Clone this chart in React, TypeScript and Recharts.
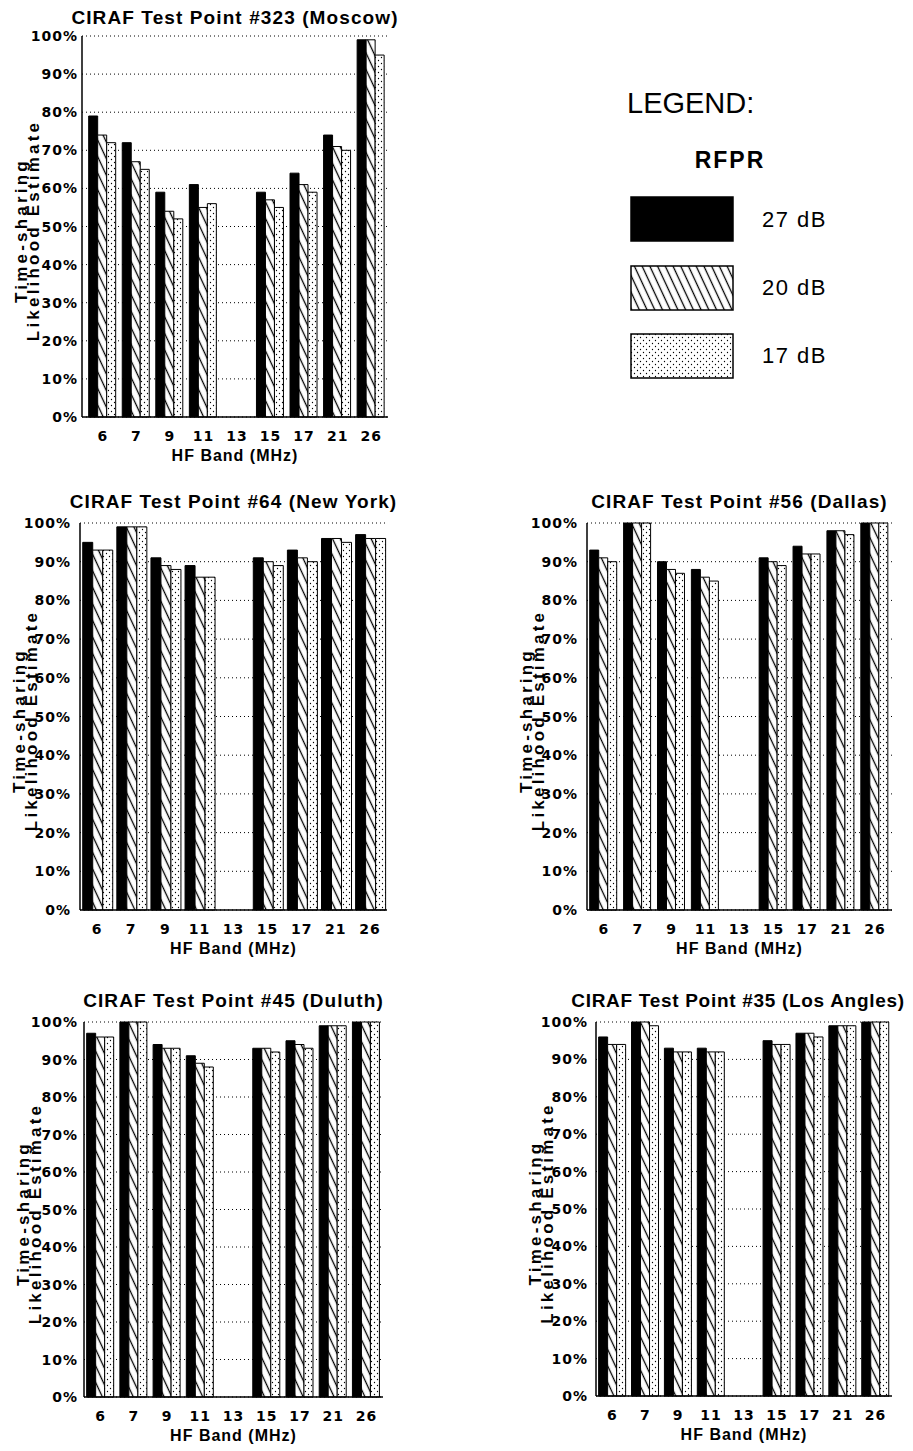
import React from 'react';
import { BarChart, Bar, XAxis, YAxis, CartesianGrid } from 'recharts';

// HF broadcast bands (MHz)
const bands = ['6', '7', '9', '11', '13', '15', '17', '21', '26'];
const yTicks = [0, 10, 20, 30, 40, 50, 60, 70, 80, 90, 100];

// RFPR 27 dB / 20 dB / 17 dB, percent, 13 MHz has no bars
const moscow27 = [79, 72, 59, 61, null, 59, 64, 74, 99];
const moscow20 = [74, 67, 54, 55, null, 57, 61, 71, 99];
const moscow17 = [72, 65, 52, 56, null, 55, 59, 70, 95];

const newYork27 = [95, 99, 91, 89, null, 91, 93, 96, 97];
const newYork20 = [93, 99, 89, 86, null, 90, 91, 96, 96];
const newYork17 = [93, 99, 88, 86, null, 89, 90, 95, 96];

const dallas27 = [93, 100, 90, 88, null, 91, 94, 98, 100];
const dallas20 = [91, 100, 88, 86, null, 90, 92, 98, 100];
const dallas17 = [90, 100, 87, 85, null, 89, 92, 97, 100];

const duluth27 = [97, 100, 94, 91, null, 93, 95, 99, 100];
const duluth20 = [96, 100, 93, 89, null, 93, 94, 99, 100];
const duluth17 = [96, 100, 93, 88, null, 92, 93, 99, 100];

const losAngeles27 = [96, 100, 93, 93, null, 95, 97, 99, 100];
const losAngeles20 = [94, 100, 92, 92, null, 94, 97, 99, 100];
const losAngeles17 = [94, 99, 92, 92, null, 94, 96, 99, 100];

const Y_AXIS_W = 80;
const M_TOP = 10;
const M_RIGHT = 10;
const X_AXIS_H = 50;

const SANS = '"Liberation Sans", Arial, Helvetica, sans-serif';
const TICK_FONT = '"DejaVu Sans", Verdana, sans-serif';

function YTick({ x, y, payload }: any) {
  return (
    <text x={x} y={y} textAnchor="end" dominantBaseline="central" fill="#000"
      fontFamily={TICK_FONT} fontWeight="bold" fontSize={14} letterSpacing={1}>
      {payload.value}%
    </text>
  );
}

function XTick({ x, y, payload }: any) {
  return (
    <text x={x} y={y} textAnchor="middle" dominantBaseline="central" fill="#000"
      fontFamily={TICK_FONT} fontWeight="bold" fontSize={14} letterSpacing={1}>
      {payload.value}
    </text>
  );
}

function XLabel({ viewBox }: any) {
  if (!viewBox) return null;
  return (
    <text x={viewBox.x + viewBox.width / 2} y={viewBox.y + 38} textAnchor="middle"
      dominantBaseline="central" fill="#000" fontFamily={SANS} fontWeight="bold"
      fontSize={16} letterSpacing={1}>
      HF Band (MHz)
    </text>
  );
}

function YLabel({ viewBox }: any) {
  if (!viewBox) return null;
  const plotLeft = viewBox.x + viewBox.width;
  const cy = viewBox.y + viewBox.height / 2 + 4;
  const x1 = plotLeft - 61;
  const x2 = plotLeft - 49;
  const common = {
    textAnchor: 'middle' as const,
    dominantBaseline: 'central' as const,
    fill: '#000',
    fontFamily: SANS,
    fontWeight: 'bold',
    fontSize: 17,
    letterSpacing: 3.2,
  };
  return (
    <g>
      <text x={x1} y={cy} transform={`rotate(-90, ${x1}, ${cy})`} {...common}>Time-sharing</text>
      <text x={x2} y={cy} transform={`rotate(-90, ${x2}, ${cy})`} {...common}>Likelihood Estimate</text>
    </g>
  );
}

interface PanelProps {
  title: string;
  r27: (number | null)[];
  r20: (number | null)[];
  r17: (number | null)[];
  left: number;
  top: number;
  w: number;
  h: number;
  padLeft?: number;
  titleGap?: number;
  titleShift?: number;
  titleSpacing?: number;
  tickGap?: number;
}

function Panel({
  title, r27, r20, r17, left, top, w, h,
  padLeft = 0, titleGap = 21, titleShift = 0, titleSpacing = 1.1, tickGap = 7,
}: PanelProps) {
  const data = bands.map((band, i) => ({ band, r27: r27[i], r20: r20[i], r17: r17[i] }));
  return (
    <>
      <div style={{
        position: 'absolute', left: left + w / 2 - 220 + titleShift, width: 440, top: top - titleGap - 12,
        height: 24, lineHeight: '24px', textAlign: 'center', fontFamily: SANS,
        fontWeight: 'bold', fontSize: 19, letterSpacing: titleSpacing, whiteSpace: 'nowrap',
      }}>
        {title}
      </div>
      <div style={{ position: 'absolute', left: left - Y_AXIS_W, top: top - M_TOP }}>
        <BarChart
          width={Y_AXIS_W + w + M_RIGHT}
          height={M_TOP + h + X_AXIS_H}
          data={data}
          margin={{ top: M_TOP, right: M_RIGHT, bottom: 0, left: 0 }}
          barCategoryGap="8%"
          barGap={0}
        >
          <CartesianGrid vertical={false} stroke="#000" strokeDasharray="1 3" />
          <XAxis
            dataKey="band"
            height={X_AXIS_H}
            tickLine={false}
            tickSize={0}
            tickMargin={19}
            tick={<XTick />}
            interval={0}
            padding={{ left: padLeft, right: 0 }}
            axisLine={{ stroke: '#000', strokeWidth: 1.5 }}
            label={<XLabel />}
          />
          <XAxis
            xAxisId="top"
            orientation="top"
            dataKey="band"
            height={0}
            tick={false}
            tickLine={false}
            axisLine={{ stroke: '#000', strokeWidth: 1.2 }}
          />
          <YAxis
            domain={[0, 100]}
            ticks={yTicks}
            width={Y_AXIS_W}
            tickLine={false}
            tickSize={0}
            tickMargin={tickGap}
            tick={<YTick />}
            interval={0}
            axisLine={{ stroke: '#000', strokeWidth: 1.5 }}
            label={<YLabel />}
          />
          <YAxis
            yAxisId="right"
            orientation="right"
            domain={[0, 100]}
            width={0}
            tick={false}
            tickLine={false}
            axisLine={{ stroke: '#000', strokeWidth: 1.2 }}
          />
          <Bar dataKey="r27" fill="#000" stroke="#000" strokeWidth={1} isAnimationActive={false} />
          <Bar dataKey="r20" fill="url(#hatch20)" stroke="#000" strokeWidth={1} isAnimationActive={false} />
          <Bar dataKey="r17" fill="url(#dots17)" stroke="#000" strokeWidth={1} isAnimationActive={false} />
        </BarChart>
      </div>
    </>
  );
}

function Swatch({ fill, top }: { fill: string; top: number }) {
  return (
    <svg style={{ position: 'absolute', left: 630, top }} width={104} height={46}>
      <rect x={1} y={1} width={102} height={44} fill={fill} stroke="#000" strokeWidth={1.5} />
    </svg>
  );
}

function LegendBlock() {
  const label = (text: string, y: number) => (
    <div style={{
      position: 'absolute', left: 762, top: y - 14, height: 28, lineHeight: '28px',
      fontFamily: SANS, fontSize: 22, letterSpacing: 1.5, whiteSpace: 'nowrap',
    }}>{text}</div>
  );
  return (
    <>
      <div style={{
        position: 'absolute', left: 627, top: 86, height: 34, lineHeight: '34px',
        fontFamily: SANS, fontSize: 29, whiteSpace: 'nowrap',
      }}>LEGEND:</div>
      <div style={{
        position: 'absolute', left: 630, width: 200, top: 146, height: 28, lineHeight: '28px',
        textAlign: 'center', fontFamily: SANS, fontWeight: 'bold', fontSize: 23, letterSpacing: 2,
      }}>RFPR</div>
      <Swatch fill="#000" top={196} />
      {label('27 dB', 220)}
      <Swatch fill="url(#hatch20)" top={265} />
      {label('20 dB', 288)}
      <Swatch fill="url(#dots17)" top={333} />
      {label('17 dB', 356)}
    </>
  );
}

export default function App() {
  return (
    <div style={{ position: 'absolute', left: 0, top: 0, width: 913, height: 1451, background: '#fff', color: '#000' }}>
      <svg width={0} height={0} style={{ position: 'absolute' }}>
        <defs>
          <pattern id="hatch20" patternUnits="userSpaceOnUse" width={7} height={7} patternTransform="rotate(-25)">
            <rect width={7} height={7} fill="#fff" />
            <line x1={3.5} y1={-1} x2={3.5} y2={8} stroke="#000" strokeWidth={1.3} />
          </pattern>
          <pattern id="dots17" patternUnits="userSpaceOnUse" width={6} height={6}>
            <rect width={6} height={6} fill="#fff" />
            <circle cx={1.5} cy={1.5} r={0.65} fill="#000" />
            <circle cx={4.5} cy={4.5} r={0.65} fill="#000" />
          </pattern>
        </defs>
      </svg>

      <Panel title="CIRAF Test Point #323 (Moscow)" r27={moscow27} r20={moscow20} r17={moscow17}
        left={82} top={36} w={306} h={381} padLeft={4} titleGap={18} tickGap={4} />
      <LegendBlock />
      <Panel title="CIRAF Test Point #64 (New York)" r27={newYork27} r20={newYork20} r17={newYork17}
        left={80} top={523} w={307} h={387} tickGap={9} />
      <Panel title="CIRAF Test Point #56 (Dallas)" r27={dallas27} r20={dallas20} r17={dallas17}
        left={587} top={523} w={305} h={387} tickGap={9} />
      <Panel title="CIRAF Test Point #45 (Duluth)" r27={duluth27} r20={duluth20} r17={duluth17}
        left={84} top={1022} w={299} h={375} tickGap={6} />
      <Panel title="CIRAF Test Point #35 (Los Angles)" r27={losAngeles27} r20={losAngeles20} r17={losAngeles17}
        left={596} top={1022} w={296} h={374} tickGap={8} titleShift={-6} titleSpacing={0.7} />
    </div>
  );
}
